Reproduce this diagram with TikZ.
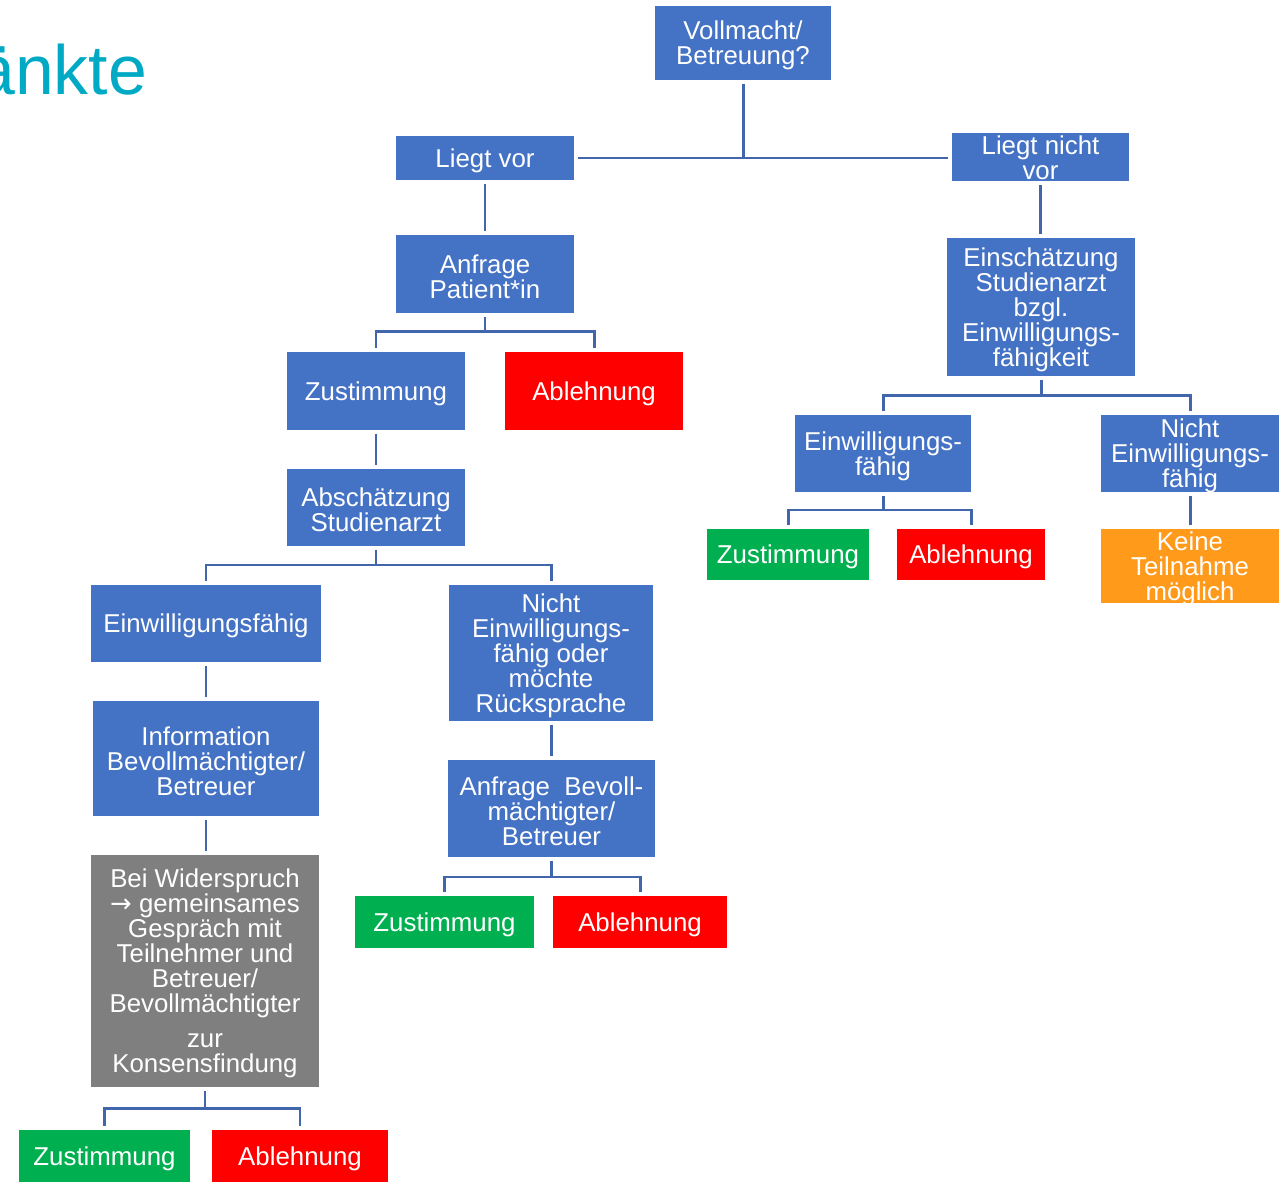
\documentclass[tikz,border=0pt]{standalone}
\usepackage{fontspec}
\setmainfont{Liberation Sans}
\newfontfamily\arrowfont{DejaVu Sans}
\usetikzlibrary{calc}
\definecolor{boxblue}{HTML}{4472C4}
\definecolor{boxred}{HTML}{FF0000}
\definecolor{boxgreen}{HTML}{00B050}
\definecolor{boxorange}{HTML}{FF9A1A}
\definecolor{boxgray}{HTML}{7F7F7F}
\definecolor{lineblue}{HTML}{4166AC}
\definecolor{titlecyan}{HTML}{00A9C4}
\begin{document}
\begin{tikzpicture}[x=0.02cm,y=-0.02cm,
  box/.style={draw=none, rectangle, inner sep=0pt, outer sep=0pt},
  lbl/.style={text=white, align=center, inner sep=0pt, yshift=-0.05cm,
    font=\fontsize{14.7pt}{14.2pt}\selectfont},
  conn/.style={draw=lineblue, line width=1.7pt},
  gap/.style={shorten <=0.08cm, shorten >=0.08cm}]
\useasboundingbox (0,0) rectangle (1281,1182);

% title fragment
\node[anchor=base west, inner sep=0pt, text=titlecyan,
  font=\fontsize{39.7pt}{44pt}\selectfont] (title) at (-24,95) {änkte};

% left branch
\node[box, fill=boxblue, minimum width=3.52cm, minimum height=1.48cm,
  label={[lbl]center:Vollmacht/\\Betreuung?}] (voll) at (743,43) {};
\node[box, fill=boxblue, minimum width=3.56cm, minimum height=0.88cm,
  label={[lbl]center:Liegt vor}] (lv) at (485,158) {};
\node[box, fill=boxblue, minimum width=3.54cm, minimum height=0.96cm,
  label={[lbl,yshift=0.04cm]center:Liegt nicht\\vor}] (lnv) at (1040.5,157) {};
\node[box, fill=boxblue, minimum width=3.56cm, minimum height=1.56cm,
  label={[lbl]center:Anfrage\\Patient*in}] (anf) at (485,274) {};
\node[box, fill=boxblue, minimum width=3.56cm, minimum height=1.56cm,
  label={[lbl]center:Zustimmung}] (zu1) at (376,391) {};
\node[box, fill=boxred, minimum width=3.56cm, minimum height=1.56cm,
  label={[lbl]center:Ablehnung}] (ab1) at (594,391) {};
\node[box, fill=boxblue, minimum width=3.56cm, minimum height=1.54cm,
  label={[lbl]center:Abschätzung\\Studienarzt}] (absch) at (376,507.5) {};
\node[box, fill=boxblue, minimum width=4.60cm, minimum height=1.54cm,
  label={[lbl]center:Einwilligungsfähig}] (ein) at (206,623.5) {};
\node[box, fill=boxblue, minimum width=4.08cm, minimum height=2.72cm,
  label={[lbl]center:Nicht\\Einwilligungs-\\fähig oder\\möchte\\Rücksprache}] (nein) at (551,653) {};
\node[box, fill=boxblue, minimum width=4.52cm, minimum height=2.30cm,
  label={[lbl]center:Information\\Bevollmächtigter/\\Betreuer}] (info) at (206,758.5) {};
\node[box, fill=boxblue, minimum width=4.14cm, minimum height=1.94cm,
  label={[lbl]center:Anfrage~~Bevoll-\\mächtigter/\\Betreuer}] (anfb) at (551.5,808.5) {};
\node[box, fill=boxgreen, minimum width=3.58cm, minimum height=1.04cm,
  label={[lbl]center:Zustimmung}] (zu2) at (444.5,922) {};
\node[box, fill=boxred, minimum width=3.48cm, minimum height=1.04cm,
  label={[lbl]center:Ablehnung}] (ab2) at (640,922) {};
\node[box, fill=boxgray, minimum width=4.56cm, minimum height=4.64cm,
  label={[lbl]center:Bei Widerspruch\\{\arrowfont →} gemeinsames\\Gespräch mit\\Teilnehmer und\\Betreuer/\\Bevollmächtigter\\[0.2cm]zur\\Konsensfindung}] (wid) at (205,971) {};
\node[box, fill=boxgreen, minimum width=3.42cm, minimum height=1.04cm,
  label={[lbl]center:Zustimmung}] (zu3) at (104.5,1156) {};
\node[box, fill=boxred, minimum width=3.52cm, minimum height=1.04cm,
  label={[lbl]center:Ablehnung}] (ab3) at (300,1156) {};

% right branch
\node[box, fill=boxblue, minimum width=3.76cm, minimum height=2.76cm,
  label={[lbl]center:Einschätzung\\Studienarzt\\bzgl.\\Einwilligungs-\\fähigkeit}] (einsch) at (1041,307) {};
\node[box, fill=boxblue, minimum width=3.52cm, minimum height=1.54cm,
  label={[lbl]center:Einwilligungs-\\fähig}] (einr) at (883,453.5) {};
\node[box, fill=boxblue, minimum width=3.56cm, minimum height=1.54cm,
  label={[lbl]center:Nicht\\Einwilligungs-\\fähig}] (neinr) at (1190,453.5) {};
\node[box, fill=boxgreen, minimum width=3.24cm, minimum height=1.02cm,
  label={[lbl]center:Zustimmung}] (zur) at (788,554.5) {};
\node[box, fill=boxred, minimum width=2.96cm, minimum height=1.02cm,
  label={[lbl]center:Ablehnung}] (abr) at (971,554.5) {};
\node[box, fill=boxorange, minimum width=3.56cm, minimum height=1.48cm,
  label={[lbl]center:Keine\\Teilnahme\\möglich}] (keine) at (1190,566) {};

% connectors
\draw[conn, shorten <=0.08cm] (voll.south) -- (voll.south |- lv.east);
\draw[conn, gap] (lv.east) -- (lv.east -| lnv.west);
\draw[conn, gap] (lv.south) -- (anf.north);
\draw[conn, gap] (anf.south) -- ++(0,19) -| (zu1.north);
\draw[conn, gap] (anf.south) -- ++(0,19) -| (ab1.north);
\draw[conn, gap] (zu1.south) -- (absch.north);
\draw[conn, gap] (absch.south) -- ++(0,19) -| (ein.north);
\draw[conn, gap] (absch.south) -- ++(0,19) -| (nein.north);
\draw[conn, gap] (ein.south) -- (info.north);
\draw[conn, gap] (info.south) -- (info.south |- wid.north);
\draw[conn, gap] (nein.south) -- (nein.south |- anfb.north);
\draw[conn, gap] (anfb.south) -- ++(0,20) -| (zu2.north);
\draw[conn, gap] (anfb.south) -- ++(0,20) -| (ab2.north);
\draw[conn, gap] (wid.south) -- ++(0,22) -| (zu3.north);
\draw[conn, gap] (wid.south) -- ++(0,22) -| (ab3.north);
\draw[conn, gap] (lnv.south) -- (lnv.south |- einsch.north);
\draw[conn, gap] (einsch.south) -- ++(0,20) -| (einr.north);
\draw[conn, gap] (einsch.south) -- ++(0,20) -| (neinr.north);
\draw[conn, gap] (einr.south) -- ++(0,18) -| (zur.north);
\draw[conn, gap] (einr.south) -- ++(0,18) -| (abr.north);
\draw[conn, gap] (neinr.south) -- (keine.north);
\end{tikzpicture}
\end{document}
